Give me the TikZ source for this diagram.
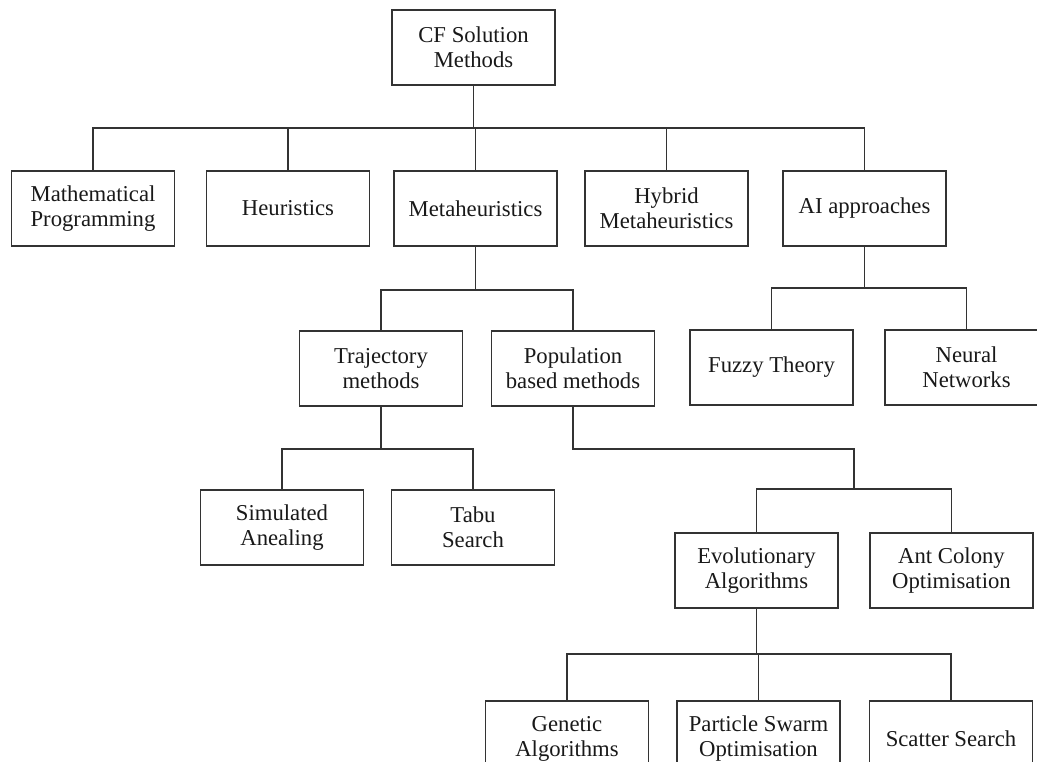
\documentclass[tikz,border=0pt]{standalone}
\usepackage{fontspec}
\setmainfont{Liberation Serif}
\usetikzlibrary{positioning}

\begin{document}
\begin{tikzpicture}[
  x=0.5pt, y=-0.5pt,
  font=\fontsize{11.35}{12.5}\selectfont,
  box/.style={draw=black!80, line width=0.8pt, align=center, minimum width=81.5pt, minimum height=37.5pt, inner sep=2pt, text=black!90},
  link/.style={draw=black!80, line width=0.8pt}
]
\useasboundingbox (0,0) rectangle (1037,761);
\clip (0,0) rectangle (1037,761);

\node[box] (root) at (473.5,47.5) {CF Solution\\Methods};
\node[box] (math) at (93,208.5) {Mathematical\\Programming};
\node[box] (heur) at (288,208.5) {Heuristics};
\node[box] (meta) at (475.5,208.5) {Metaheuristics};
\node[box] (hybrid) at (666.5,208.5) {Hybrid\\Metaheuristics};
\node[box] (ai) at (864.5,208.5) {AI approaches};
\node[box] (traj) at (381,368.5) {Trajectory\\methods};
\node[box] (pop) at (573,368.5) {Population\\based methods};
\node[box] (fuzzy) at (771.5,367.5) {Fuzzy Theory};
\node[box] (neural) at (966.5,367.5) {Neural\\Networks};
\node[box] (sim) at (282,527.5) {Simulated\\Anealing};
\node[box] (tabu) at (473,527.5) {Tabu\\Search};
\node[box] (evol) at (756.5,570.5) {Evolutionary\\Algorithms};
\node[box] (ant) at (951.5,570.5) {Ant Colony\\Optimisation};
\node[box] (gen) at (567,738.5) {Genetic\\Algorithms};
\node[box] (pso) at (758.5,738.5) {Particle Swarm\\Optimisation};
\node[box] (scatter) at (951,738.5) {Scatter Search};

\foreach \c in {math,heur,meta,hybrid,ai}
  \draw[link] (root.south) -- ++(0,42) -| (\c.north);
\foreach \c in {traj,pop}
  \draw[link] (meta.south) -- ++(0,43) -| (\c.north);
\foreach \c in {fuzzy,neural}
  \draw[link] (ai.south) -- ++(0,41) -| (\c.north);
\foreach \c in {sim,tabu}
  \draw[link] (traj.south) -- ++(0,42) -| (\c.north);
\coordinate (evolfork) at (854,489);
\draw[link] (pop.south) -- ++(0,42) -| (evolfork);
\foreach \c in {evol,ant}
  \draw[link] (evolfork) -| (\c.north);
\foreach \c in {gen,pso,scatter}
  \draw[link] (evol.south) -- ++(0,45) -| (\c.north);
\end{tikzpicture}
\end{document}
